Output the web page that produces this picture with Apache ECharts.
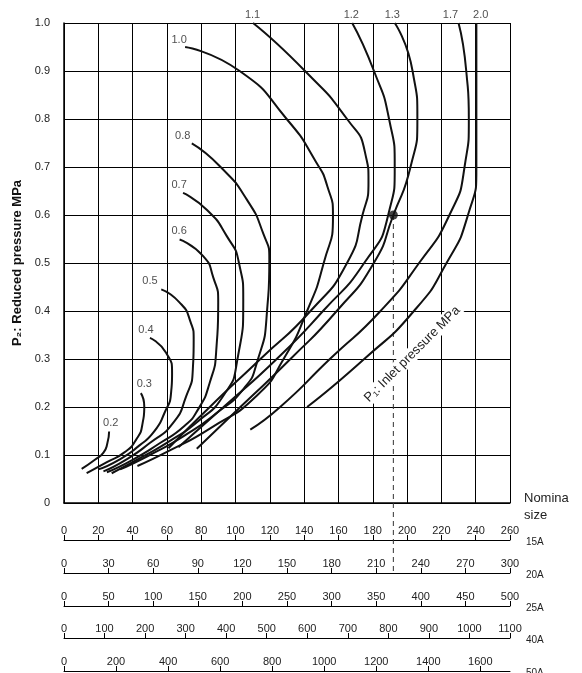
<!DOCTYPE html>
<html>
<head>
<meta charset="utf-8">
<script src="https://cdn.jsdelivr.net/npm/echarts@6/dist/echarts.min.js"></script>
<style>html,body{margin:0;padding:0;background:#fff}#chart{width:582px;height:673px}</style>
</head>
<body>
<div id="chart"></div>
<script>
// curve data: [flow, P2], lower end first
var c02 = [[10.3, 0.071], [18, 0.09], [23, 0.105], [25.3, 0.125], [26.3, 0.149]];
var c03 = [[13.2, 0.062], [25, 0.085], [35, 0.105], [41.9, 0.131], [45.8, 0.166], [46.8, 0.201], [44.8, 0.229]];
var c04 = [[20, 0.07], [32, 0.09], [44, 0.12], [52.6, 0.149], [58.5, 0.187], [62.4, 0.229], [63, 0.271], [59.5, 0.313], [50.1, 0.344]];
var c05 = [[23, 0.066], [36, 0.09], [50, 0.125], [63.4, 0.166], [71.2, 0.222], [75.1, 0.278], [75.6, 0.34], [73.5, 0.38], [67.3, 0.418], [56.7, 0.445]];
var c06 = [[25, 0.064], [40, 0.09], [56, 0.125], [70, 0.16], [78, 0.194], [84.9, 0.25], [88.8, 0.32], [89.9, 0.418], [87, 0.47], [81, 0.515], [67.4, 0.549]];
var c07 = [[27.8, 0.062], [45, 0.095], [62, 0.13], [78, 0.17], [93, 0.224], [100.8, 0.293], [104.5, 0.425], [102, 0.5], [94.9, 0.556], [83.2, 0.611], [69.4, 0.646]];
var c08 = [[32.7, 0.07], [50, 0.1], [70, 0.14], [88, 0.185], [104.7, 0.238], [112.5, 0.293], [118.3, 0.397], [119.7, 0.508], [116.3, 0.56], [106.6, 0.632], [91, 0.701], [74.5, 0.749]];
var c10 = [[42.8, 0.077], [62, 0.11], [85, 0.155], [112.5, 0.224], [128, 0.3], [141.7, 0.4], [151.4, 0.5], [156.8, 0.598], [153.5, 0.66], [147, 0.71], [129.8, 0.8], [102.4, 0.9], [70.6, 0.95]];
var c11 = [[60.9, 0.114], [85, 0.2], [114.5, 0.3], [143.7, 0.4], [165, 0.5], [174, 0.6], [177.5, 0.67], [175.5, 0.73], [165, 0.8], [140.5, 0.9], [110.2, 1.0]];
var c12 = [[66.7, 0.116], [93, 0.2], [124, 0.3], [151, 0.4], [175, 0.5], [189, 0.6], [192.8, 0.7], [189.5, 0.8], [180.7, 0.9], [168, 1.0]];
var c13 = [[77.4, 0.113], [102.8, 0.2], [132, 0.3], [159, 0.4], [180.6, 0.5], [192, 0.6], [202, 0.7], [206, 0.8], [203.2, 0.9], [192.8, 1.0]];
var c17 = [[108.6, 0.153], [126, 0.2], [155, 0.3], [184.5, 0.4], [207, 0.5], [224.7, 0.6], [233.5, 0.7], [236, 0.8], [234.5, 0.9], [230, 1.0]];
var c20 = [[141.7, 0.2], [175, 0.3], [204, 0.4], [223, 0.5], [235.5, 0.6], [240.4, 0.7], [240.4, 1.0]];
var curves = [c02, c03, c04, c05, c06, c07, c08, c10, c11, c12, c13, c17, c20];

var curveNames = ['0.2', '0.3', '0.4', '0.5', '0.6', '0.7', '0.8', '1.0', '1.1', '1.2', '1.3', '1.7', '2.0'];
var curveLabelPos = [[27.2, 0.167], [46.8, 0.247], [47.8, 0.36], [50.1, 0.462], [67.1, 0.567], [67.1, 0.663], [69.2, 0.765], [67.1, 0.965], [109.9, 1.017], [167.5, 1.017], [191.4, 1.017], [225.3, 1.017], [242.9, 1.017]];

var samplePoint = [192, 0.6];

// nominal size scales: [name, max, interval, axis line y]
var sizeScales = [
    ['15A', 260, 20, 540],
    ['20A', 300, 30, 573],
    ['25A', 500, 50, 606],
    ['40A', 1100, 100, 638],
    ['50A', 1714, 200, 671]
];

var chart = echarts.init(document.getElementById('chart'));
var font = 'Liberation Sans, Arial, sans-serif';

var grids = [{left: 64, right: 72, top: 23, height: 480}];
var xAxes = [{
    type: 'value', gridIndex: 0, min: 0, max: 260, interval: 20,
    axisLine: {lineStyle: {color: '#000', width: 1.5}},
    axisTick: {show: false}, axisLabel: {show: false},
    splitLine: {lineStyle: {color: '#000', width: 1}}
}];
var yAxes = [{
    type: 'value', gridIndex: 0, min: 0, max: 1, interval: 0.1,
    name: 'P\u2082: Reduced pressure MPa', nameLocation: 'middle', nameGap: 38,
    nameTextStyle: {fontFamily: font, fontWeight: 'bold', fontSize: 13, color: '#111'},
    axisLine: {show: true, lineStyle: {color: '#000', width: 1.5}},
    axisTick: {show: false},
    axisLabel: {fontFamily: font, fontSize: 11, color: '#222', margin: 14,
        formatter: function (v) { return v === 0 ? '0' : v.toFixed(1); }},
    splitLine: {lineStyle: {color: '#000', width: 1}}
}];
sizeScales.forEach(function (s, i) {
    grids.push({left: 64, right: 72, top: s[3], height: 0});
    xAxes.push({
        type: 'value', gridIndex: i + 1, position: 'top', min: 0, max: s[1], interval: s[2],
        axisLine: {lineStyle: {color: '#000', width: 1}},
        axisTick: {length: 5, lineStyle: {color: '#000'}},
        axisLabel: {fontFamily: font, fontSize: 11, color: '#222', margin: 4,
            showMaxLabel: s[1] % s[2] === 0,
            formatter: function (v) { return String(v); }},
        splitLine: {show: false}
    });
    yAxes.push({type: 'value', gridIndex: i + 1, show: false});
});

var series = curves.map(function (c) {
    return {
        type: 'line', data: c, smooth: 0.6, symbol: 'none', silent: true,
        lineStyle: {color: '#111', width: 2}
    };
});
series.push({
    type: 'scatter', clip: false, symbolSize: 0, silent: true,
    data: curveLabelPos.map(function (p, i) { return {value: p, name: curveNames[i]}; }),
    label: {show: true, position: 'inside', formatter: '{b}', fontFamily: font, fontSize: 11, color: '#222'}
});
series.push({
    type: 'scatter', data: [samplePoint], symbolSize: 9, silent: true,
    itemStyle: {color: '#111'}, z: 5
});

chart.setOption({
    animation: false,
    grid: grids, xAxis: xAxes, yAxis: yAxes, series: series
});

var p = chart.convertToPixel({gridIndex: 0}, samplePoint);
var t = chart.convertToPixel({gridIndex: 0}, [203, 0.31]);
var graphics = [
    {type: 'line', shape: {x1: p[0], y1: p[1], x2: p[0], y2: 575}, z: 1,
        style: {stroke: '#333', lineWidth: 1, lineDash: [5, 4]}},
    {type: 'text', x: t[0], y: t[1], rotation: Math.PI / 4, z: 10,
        style: {text: 'P\u2081: Inlet pressure MPa', fontFamily: font, fontSize: 13, fill: '#222',
            align: 'center', verticalAlign: 'middle', backgroundColor: '#fff', padding: [1, 2]}},
    {type: 'text', x: 524, y: 492, style: {text: 'Nomina', fontFamily: font, fontSize: 13, fill: '#222'}},
    {type: 'text', x: 524, y: 509, style: {text: 'size', fontFamily: font, fontSize: 13, fill: '#222'}}
];
sizeScales.forEach(function (s) {
    graphics.push({type: 'text', x: 526, y: s[3] - 3,
        style: {text: s[0], fontFamily: font, fontSize: 10, fill: '#222'}});
});
chart.setOption({graphic: graphics});
</script>
</body>
</html>
